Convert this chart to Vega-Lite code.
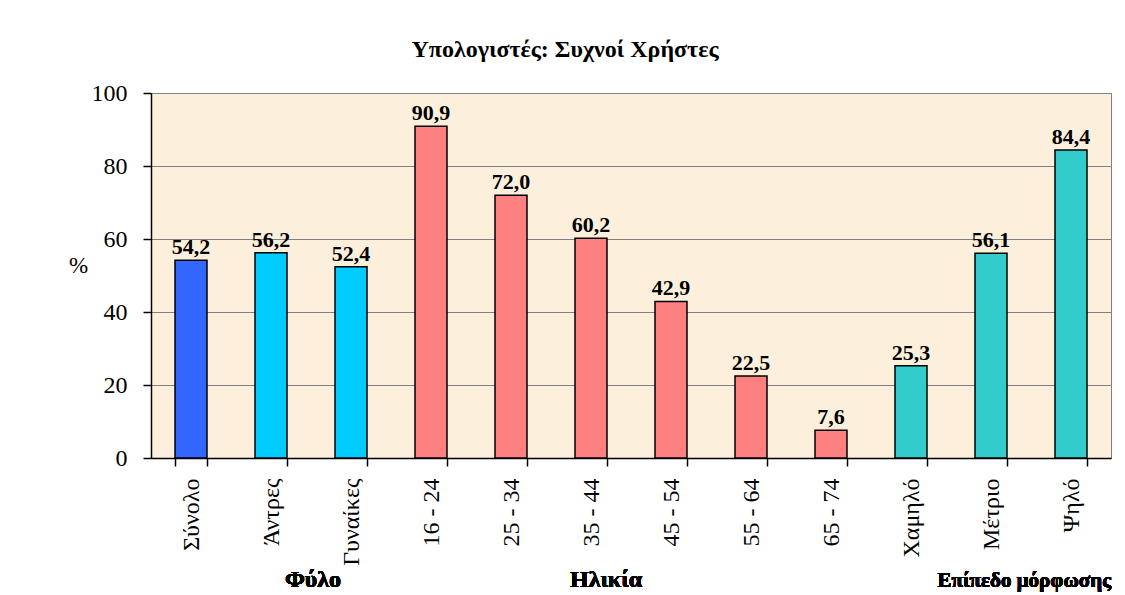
{
  "$schema": "https://vega.github.io/schema/vega-lite/v6.json",
  "autosize": {"type": "none"},
  "width": 960,
  "height": 365,
  "padding": {"left": 151, "top": 93, "right": 14, "bottom": 137},
  "background": "white",
  "config": {
    "locale": {"number": {"decimal": ",", "thousands": ".", "grouping": [3], "currency": ["", " €"]}},
    "view": {"fill": "#FCF0DC", "stroke": "#808080", "strokeWidth": 1},
    "font": "'Liberation Serif', serif",
    "text": {"font": "'Liberation Serif', serif"},
    "title": {"font": "'Liberation Serif', serif"},
    "axis": {"labelFont": "'Liberation Serif', serif", "titleFont": "'Liberation Serif', serif"}
  },
  "title": {
    "text": "Υπολογιστές: Συχνοί Χρήστες",
    "font": "'Liberation Serif', serif",
    "fontSize": 24,
    "fontWeight": "bold",
    "color": "black",
    "anchor": "middle",
    "frame": "group",
    "dx": -66,
    "offset": 19
  },
  "data": {
    "values": [
      {"cat": "Σύνολο", "grp": "Σύνολο", "val": 54.2},
      {"cat": "Άντρες", "grp": "Φύλο", "val": 56.2},
      {"cat": "Γυναίκες", "grp": "Φύλο", "val": 52.4},
      {"cat": "16 - 24", "grp": "Ηλικία", "val": 90.9},
      {"cat": "25 - 34", "grp": "Ηλικία", "val": 72.0},
      {"cat": "35 - 44", "grp": "Ηλικία", "val": 60.2},
      {"cat": "45 - 54", "grp": "Ηλικία", "val": 42.9},
      {"cat": "55 - 64", "grp": "Ηλικία", "val": 22.5},
      {"cat": "65 - 74", "grp": "Ηλικία", "val": 7.6},
      {"cat": "Χαμηλό", "grp": "Μόρφωση", "val": 25.3},
      {"cat": "Μέτριο", "grp": "Μόρφωση", "val": 56.1},
      {"cat": "Ψηλό", "grp": "Μόρφωση", "val": 84.4}
    ]
  },
  "encoding": {
    "x": {
      "field": "cat",
      "type": "nominal",
      "sort": null,
      "scale": {"paddingInner": 0.6, "paddingOuter": 0.3},
      "axis": {
        "title": null,
        "labelAngle": -90,
        "labelAlign": "right",
        "labelBaseline": "middle",
        "labelFontSize": 24,
        "labelColor": "black",
        "labelPadding": 12,
        "tickBand": "extent",
        "tickSize": 8,
        "tickColor": "black",
        "tickWidth": 1.5,
        "domainColor": "black",
        "domainWidth": 1.5,
        "grid": false
      }
    }
  },
  "layer": [
    {
      "mark": {"type": "bar", "stroke": "black", "strokeWidth": 1.5},
      "encoding": {
        "y": {
          "field": "val",
          "type": "quantitative",
          "scale": {"domain": [0, 100]},
          "axis": {
            "title": "%",
            "titleAngle": 0,
            "titleX": -73,
            "titleY": 172,
            "titleAlign": "center",
            "titleBaseline": "middle",
            "titleFontSize": 23,
            "titleFontWeight": "normal",
            "titleColor": "black",
            "values": [0, 20, 40, 60, 80, 100],
            "labelFontSize": 24,
            "labelColor": "black",
            "labelPadding": 16,
            "tickSize": 8,
            "tickColor": "black",
            "tickWidth": 1.5,
            "domainColor": "black",
            "domainWidth": 1.5,
            "grid": true,
            "gridColor": "#808080",
            "gridWidth": 1
          }
        },
        "color": {
          "field": "grp",
          "type": "nominal",
          "scale": {"domain": ["Σύνολο", "Φύλο", "Ηλικία", "Μόρφωση"], "range": ["#3366FF", "#00CCFF", "#FF8080", "#33CCCC"]},
          "legend": null
        }
      }
    },
    {
      "mark": {"type": "text", "baseline": "bottom", "dy": -1, "fontSize": 22, "fontWeight": "bold", "color": "black"},
      "encoding": {
        "y": {"field": "val", "type": "quantitative"},
        "text": {"field": "val", "type": "quantitative", "format": ".1f"}
      }
    },
    {
      "mark": {"type": "text", "baseline": "alphabetic", "dx": 42, "dy": 129, "fontSize": 24, "fontWeight": "bold", "color": "black"},
      "encoding": {"x": {"datum": "Άντρες"}, "y": {"datum": 0}, "text": {"value": "Φύλο"}}
    },
    {
      "mark": {"type": "text", "baseline": "alphabetic", "dx": 15, "dy": 129, "fontSize": 24, "fontWeight": "bold", "color": "black"},
      "encoding": {"x": {"datum": "35 - 44"}, "y": {"datum": 0}, "text": {"value": "Ηλικία"}}
    },
    {
      "mark": {"type": "text", "baseline": "alphabetic", "align": "right", "dx": 120, "dy": 129, "fontSize": 21, "fontWeight": "bold", "color": "black"},
      "encoding": {"x": {"datum": "Μέτριο"}, "y": {"datum": 0}, "text": {"value": "Επίπεδο μόρφωσης"}}
    }
  ]
}
